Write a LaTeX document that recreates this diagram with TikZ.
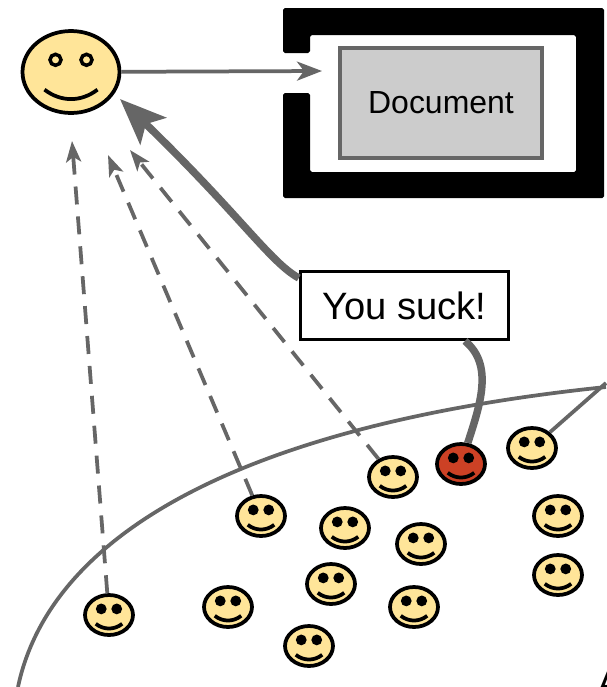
\documentclass[tikz,border=0pt]{standalone}
\usepackage{fontspec}
\setmainfont{Liberation Sans}
\usetikzlibrary{arrows.meta,shapes.geometric}
\definecolor{skin}{HTML}{FFE599}
\definecolor{angry}{HTML}{CC4125}
\definecolor{wire}{HTML}{666666}
\tikzset{
  face/.style={draw=black, ellipse, line width=0.075cm, inner sep=0pt, fill=skin},
  small/.style={face, minimum width=0.96cm, minimum height=0.8cm},
  wireline/.style={draw=wire, line width=0.075cm},
  vote/.style={wireline, dash pattern=on 0.36cm off 0.24cm, -{Stealth[length=0.42cm, width=0.3cm, inset=0.1cm]}}
}
% x, y, half width, half height, eye fill, eye radius
\newcommand{\smiley}[6]{
  \draw[line width=0.07cm, fill=#5] (#1-0.31*#3,#2-0.29*#4) circle (#6);
  \draw[line width=0.07cm, fill=#5] (#1+0.31*#3,#2-0.29*#4) circle (#6);
  \draw[line width=0.075cm] (#1-0.53*#3,#2+0.42*#4) .. controls (#1-0.2*#3,#2+0.72*#4) and (#1+0.2*#3,#2+0.72*#4) .. (#1+0.53*#3,#2+0.42*#4);
}
\begin{document}
\begin{tikzpicture}[x=0.02cm, y=-0.02cm]
\useasboundingbox (0,0) rectangle (606,687);

% the crowd
\draw[wireline] (18,687) .. controls (50,535) and (240,425) .. (606,387);
\coordinate (corner) at (606,383);

% protected area
\fill[rounded corners=1pt] (283,8) -- (604,8) -- (604,198) -- (283,198) -- (283,93) -- (310,93)
  -- (310,172) -- (576,172) -- (576,35) -- (310,35) -- (310,53) -- (283,53) -- cycle;
\node[draw=wire, fill=black!20, line width=0.075cm, minimum width=4.04cm, minimum height=2.2cm] (document) at (441,103) {\raisebox{-1pt}{\fontsize{18.2pt}{20pt}\selectfont Document}};

\node[face, minimum width=1.94cm, minimum height=1.64cm] (owner) at (71,72) {};
\smiley{71}{72}{50}{42}{skin}{0.11cm}

\foreach \name/\x/\y in {p1/109/615, p2/228/607, p3/331/584, p4/309/646, p5/414/607, p6/345/528, p7/421/544,
  p8/261/516, p9/393/477, p10/532/448, p11/558/516, p12/558/575} {
  \node[small] (\name) at (\x,\y) {};
  \smiley{\x}{\y}{25}{21}{black}{0.07cm}
}
\node[small, fill=angry] (troll) at (461,464) {};
\smiley{461}{464}{25}{21}{black}{0.07cm}

\node[draw=black, fill=white, line width=0.07cm, minimum width=4.16cm, minimum height=1.36cm] (comment) at (404.5,305.5) {\raisebox{-0.5pt}{\fontsize{21.7pt}{24pt}\selectfont You suck!}\hspace{0.12cm}};

% arrows
\coordinate (entry) at (322,71);
\draw[wireline, -{Stealth[length=0.5cm, width=0.38cm, inset=0.14cm]}] (owner) -- (entry);
\coordinate (v1) at (72,141);
\coordinate (v2) at (108,155);
\coordinate (v3) at (130,150);
\draw[vote] (p1) -- (v1);
\draw[vote] (p8) -- (v2);
\draw[vote] (p9) -- (v3);
\coordinate (hit) at (120,99);
\draw[draw=wire, line width=0.15cm, -{Stealth[length=0.92cm, width=0.74cm, inset=0.2cm]}] (comment.west |- 0,278) .. controls (270,262) and (240,215) .. (hit);
\draw[draw=wire, line width=0.15cm] (troll) .. controls (480,405) and (494,365) .. (465,341);
\draw[wireline] (p10) -- (corner);

\node[anchor=base west, inner sep=0pt] (cut) at (597,695) {\fontsize{20.9pt}{24pt}\selectfont A};
\end{tikzpicture}
\end{document}
